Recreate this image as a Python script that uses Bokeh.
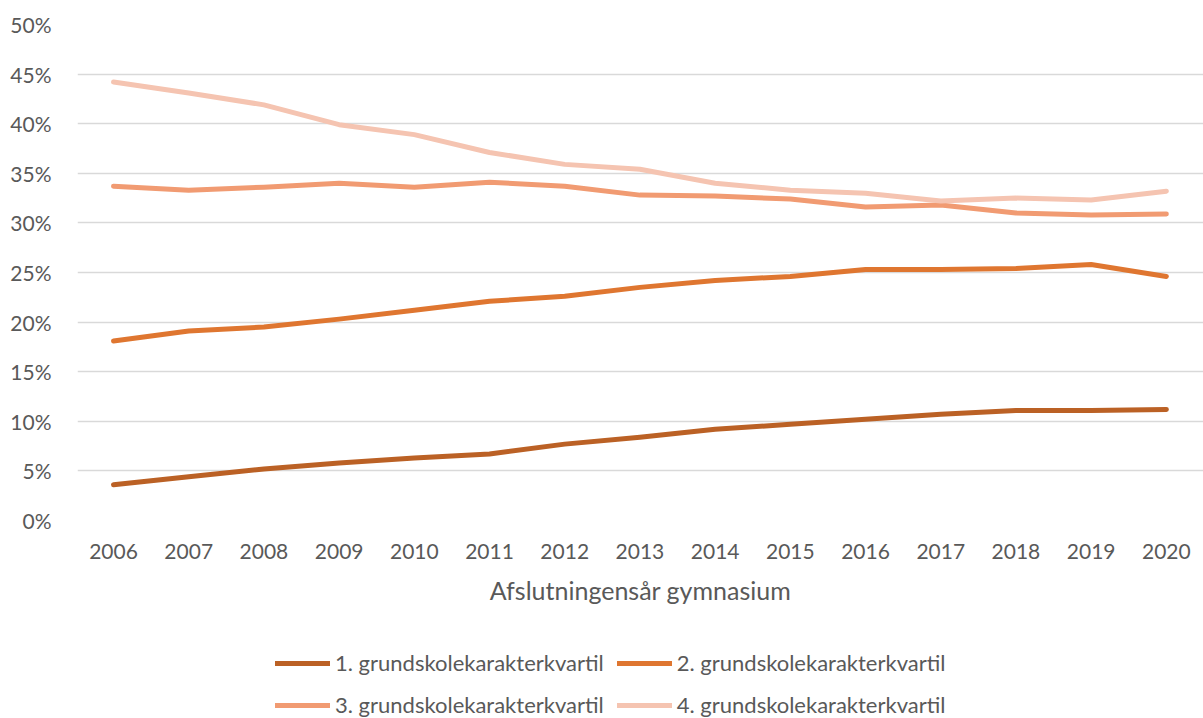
from bokeh.plotting import figure
from bokeh.models import Legend, LegendItem, FixedTicker, PrintfTickFormatter, Range1d
from bokeh.layouts import column
from bokeh.embed import file_html
from bokeh.resources import INLINE

years = list(range(2006, 2021))
q1 = [3.6, 4.4, 5.2, 5.8, 6.3, 6.7, 7.7, 8.4, 9.2, 9.7, 10.2, 10.7, 11.1, 11.1, 11.2]
q2 = [18.1, 19.1, 19.5, 20.3, 21.2, 22.1, 22.6, 23.5, 24.2, 24.6, 25.3, 25.3, 25.4, 25.8, 24.6]
q3 = [33.7, 33.3, 33.6, 34.0, 33.6, 34.1, 33.7, 32.8, 32.7, 32.4, 31.6, 31.8, 31.0, 30.8, 30.9]
q4 = [44.2, 43.1, 41.9, 39.9, 38.9, 37.1, 35.9, 35.4, 34.0, 33.3, 33.0, 32.2, 32.5, 32.3, 33.2]
names = ["1. grundskolekarakterkvartil", "2. grundskolekarakterkvartil",
         "3. grundskolekarakterkvartil", "4. grundskolekarakterkvartil"]
x_title = "Afslutningensår gymnasium"
y_ticks = list(range(0, 51, 5))
series = [q1, q2, q3, q4]

colors = ["#BB6125", "#DF7630", "#F19B72", "#F5C4B1"]
FONT = "Lato"
TXT = "#595959"
W = 1203

p = figure(width=W, height=620, output_backend="svg", toolbar_location=None,
           x_range=Range1d(2005.521, 2020.494), y_range=Range1d(0, 50),
           min_border_left=77, min_border_right=0, min_border_top=24, min_border_bottom=100)
p.outline_line_color = None
p.background_fill_color = "white"
p.border_fill_color = "white"

p.xgrid.grid_line_color = None
p.ygrid.grid_line_color = "#D9D9D9"
p.ygrid.grid_line_width = 1.5
p.ygrid.ticker = FixedTicker(ticks=y_ticks)

p.yaxis.ticker = FixedTicker(ticks=y_ticks)
p.yaxis.formatter = PrintfTickFormatter(format="%d%%")
p.xaxis.ticker = FixedTicker(ticks=years)
for ax in (p.xaxis, p.yaxis):
    ax.axis_line_color = None
    ax.major_tick_line_color = None
    ax.minor_tick_line_color = None
    ax.major_tick_out = 0
    ax.major_tick_in = 0
    ax.major_label_text_font = FONT
    ax.major_label_text_font_size = "21px"
    ax.major_label_text_color = TXT
p.yaxis.major_label_standoff = 26
p.xaxis.major_label_standoff = 23
p.xaxis.axis_label = x_title
p.xaxis.axis_label_text_font = FONT
p.xaxis.axis_label_text_font_size = "25px"
p.xaxis.axis_label_text_font_style = "normal"
p.xaxis.axis_label_text_color = TXT
p.xaxis.axis_label_standoff = 13

for vals, c in zip(series, colors):
    p.line(years, vals, line_color=c, line_width=5, line_cap="round", line_join="round")

# legend panel (same series drawn out of view so the legend can reference them)
lp = figure(width=W, height=98, output_backend="svg", toolbar_location=None,
            x_range=Range1d(2005.521, 2020.494), y_range=Range1d(100, 101),
            min_border_left=0, min_border_right=0, min_border_top=0, min_border_bottom=0)
lp.axis.visible = False
lp.grid.visible = False
lp.outline_line_color = None
lp.border_fill_color = "white"
lrs = []
for vals, c in zip(series, colors):
    lrs.append(lp.line(years, vals, line_color=c, line_width=5, line_cap="round", line_join="round"))

def make_legend(idx, loc):
    return Legend(items=[LegendItem(label=names[i], renderers=[lrs[i]]) for i in idx],
                  orientation="horizontal", location=loc,
                  label_text_font=FONT, label_text_font_size="22px", label_text_color=TXT,
                  glyph_width=55, glyph_height=20, label_height=20, label_standoff=5, spacing=13,
                  padding=4, margin=0, border_line_color=None, background_fill_alpha=0)

lp.add_layout(make_legend([0, 1], (198, 42)), "center")
lp.add_layout(make_legend([2, 3], (198, 0)), "center")

layout = column(p, lp, spacing=0)
open("out.html", "w").write(file_html(layout, INLINE))
